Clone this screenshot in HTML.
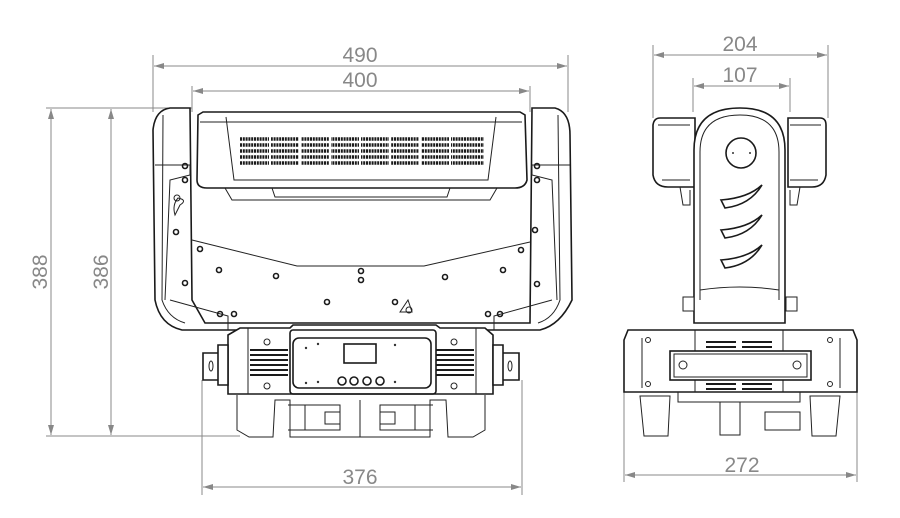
<!DOCTYPE html>
<html><head><meta charset="utf-8"><style>
html,body{margin:0;padding:0;background:#fff;}
svg{display:block}
.d{stroke:#888;stroke-width:1;fill:none}
.t{font-family:"Liberation Sans",sans-serif;font-size:21px;fill:#888;font-weight:300}
.k{stroke:#1a1a1a;stroke-width:1.6;fill:none}
.k2{stroke:#222;stroke-width:1;fill:none}
.f{fill:#fff}
</style></head><body>
<svg width="900" height="518" viewBox="0 0 900 518" xmlns="http://www.w3.org/2000/svg">
<defs>
<marker id="a" viewBox="0 0 10 6" refX="10" refY="3" markerWidth="10" markerHeight="6" orient="auto-start-reverse"><path d="M0,0L10,3L0,6z" fill="#888"/></marker>
</defs>
<line class="d" x1="153" y1="55" x2="153" y2="112"/><line class="d" x1="568" y1="55" x2="568" y2="112"/>
<line class="d" x1="154" y1="66" x2="567" y2="66" marker-start="url(#a)" marker-end="url(#a)"/>
<text class="t" x="360" y="62" text-anchor="middle">490</text>
<line class="d" x1="192" y1="86" x2="192" y2="112"/><line class="d" x1="530" y1="86" x2="530" y2="112"/>
<line class="d" x1="193" y1="91" x2="529" y2="91" marker-start="url(#a)" marker-end="url(#a)"/>
<text class="t" x="360" y="87" text-anchor="middle">400</text>
<line class="d" x1="46" y1="108" x2="192" y2="108"/>
<line class="d" x1="46" y1="436" x2="240" y2="436"/>
<line class="d" x1="51" y1="109" x2="51" y2="435" marker-start="url(#a)" marker-end="url(#a)"/>
<line class="d" x1="111" y1="109" x2="111" y2="435" marker-start="url(#a)" marker-end="url(#a)"/>
<text class="t" transform="translate(47,272) rotate(-90)" text-anchor="middle">388</text>
<text class="t" transform="translate(108,272) rotate(-90)" text-anchor="middle">386</text>
<line class="d" x1="202" y1="380" x2="202" y2="495"/><line class="d" x1="522" y1="380" x2="522" y2="495"/>
<line class="d" x1="203" y1="487" x2="521" y2="487" marker-start="url(#a)" marker-end="url(#a)"/>
<text class="t" x="360" y="484" text-anchor="middle">376</text>
<line class="d" x1="653" y1="45" x2="653" y2="118"/><line class="d" x1="828" y1="45" x2="828" y2="118"/>
<line class="d" x1="654" y1="55" x2="827" y2="55" marker-start="url(#a)" marker-end="url(#a)"/>
<text class="t" x="740" y="51" text-anchor="middle">204</text>
<line class="d" x1="693" y1="78" x2="693" y2="112"/><line class="d" x1="790" y1="78" x2="790" y2="112"/>
<line class="d" x1="694" y1="86" x2="789" y2="86" marker-start="url(#a)" marker-end="url(#a)"/>
<text class="t" x="740" y="82" text-anchor="middle">107</text>
<line class="d" x1="624" y1="345" x2="624" y2="482"/><line class="d" x1="857" y1="345" x2="857" y2="482"/>
<line class="d" x1="625" y1="475" x2="856" y2="475" marker-start="url(#a)" marker-end="url(#a)"/>
<text class="t" x="742" y="472" text-anchor="middle">272</text>

<path class="k f" d="M170,108 L190,108 L192,300 L205,323 L530,323 L532,108 L555,108 Q570,112 570,135 L572,300 Q560,325 540,330 L182,330 Q160,325 155,300 L153,130 Q155,110 170,108z"/>
<path class="k2" d="M163,115 L162,300 Q168,318 185,323 M558,115 L560,300 Q554,318 538,323"/>
<path class="k2" d="M155,165 L190,165 L190,175 L170,180 L165,300 M570,165 L532,165 L532,175 L552,180 L557,300"/>
<path class="k2" d="M170,300 L228,316 L228,330 M552,300 L494,316 L494,330"/>
<path class="k2" d="M192,240 L297,266 L424,266 L530,242"/>
<path class="k f" d="M198,115 L203,112 L520,112 L525,115 L527,180 Q525,188 515,188 L207,188 Q197,188 197,180z"/>
<path class="k2" d="M226,117 L234,180 L488,180 L496,117 M200,122 L522,122"/>
<path class="k2" d="M225,188 L232,200 L490,200 L497,188 M272,188 L275,197 L447,197 L450,188"/>
<g stroke="#1a1a1a" stroke-width="3.6" stroke-dasharray="2 0.8">
<line x1="240" y1="139" x2="484" y2="139"/><line x1="240" y1="145" x2="484" y2="145"/><line x1="240" y1="151" x2="484" y2="151"/><line x1="240" y1="157" x2="484" y2="157"/><line x1="240" y1="163" x2="484" y2="163"/>
</g>
<g stroke="#fff" stroke-width="2"><line x1="270" y1="136" x2="270" y2="167"/><line x1="300" y1="136" x2="300" y2="167"/><line x1="330" y1="136" x2="330" y2="167"/><line x1="360" y1="136" x2="360" y2="167"/><line x1="390" y1="136" x2="390" y2="167"/><line x1="420" y1="136" x2="420" y2="167"/><line x1="450" y1="136" x2="450" y2="167"/></g>
<g fill="none" stroke="#1a1a1a" stroke-width="1.6">
<circle cx="185" cy="166" r="2.5"/><circle cx="185" cy="180" r="2.5"/><circle cx="176" cy="232" r="2.5"/><circle cx="200" cy="249" r="2.5"/><circle cx="219" cy="270" r="2.5"/><circle cx="185" cy="283" r="2.5"/><circle cx="276" cy="276" r="2.5"/><circle cx="361" cy="271" r="2.5"/><circle cx="361" cy="280" r="2.5"/><circle cx="445" cy="277" r="2.5"/><circle cx="503" cy="270" r="2.5"/><circle cx="521" cy="250" r="2.5"/><circle cx="535" cy="230" r="2.5"/><circle cx="537" cy="166" r="2.5"/><circle cx="537" cy="180" r="2.5"/><circle cx="537" cy="284" r="2.5"/><circle cx="327" cy="302" r="2.5"/><circle cx="395" cy="302" r="2.5"/><circle cx="220" cy="314" r="2.5"/><circle cx="234" cy="314" r="2.5"/><circle cx="488" cy="314" r="2.5"/><circle cx="500" cy="314" r="2.5"/>
</g>
<path class="k2" d="M178,198 Q172,205 175,215 L180,205 Q188,200 178,198z"/><circle cx="177" cy="198" r="3" class="k2"/>
<path class="k2" d="M400,312 L408,300 L412,312z"/><circle cx="409" cy="310" r="3" class="k2"/>
<path class="k f" d="M228,335 L240,328 L290,328 L293,325 L436,325 L440,328 L485,328 L493,335 L493,394 L228,394z"/>
<rect class="k" x="290" y="330" width="146" height="64" rx="3"/>
<rect class="k" x="293" y="338" width="138" height="50" rx="6"/>
<rect class="k" x="344" y="344" width="32" height="19"/>
<g class="k"><circle cx="342" cy="381" r="4"/><circle cx="354" cy="381" r="4"/><circle cx="367" cy="381" r="4"/><circle cx="380" cy="381" r="4"/></g>
<g fill="#333"><circle cx="306" cy="348" r="1.2"/><circle cx="318" cy="344" r="1.2"/><circle cx="306" cy="383" r="1.2"/><circle cx="318" cy="382" r="1.2"/><circle cx="395" cy="345" r="1.2"/><circle cx="395" cy="382" r="1.2"/></g>
<g stroke="#1a1a1a" stroke-width="2"><line x1="250" y1="350" x2="288" y2="350"/><line x1="250" y1="355" x2="288" y2="355"/><line x1="250" y1="360" x2="288" y2="360"/><line x1="250" y1="365" x2="288" y2="365"/><line x1="250" y1="370" x2="288" y2="370"/><line x1="250" y1="375" x2="288" y2="375"/>
<line x1="436" y1="350" x2="474" y2="350"/><line x1="436" y1="355" x2="474" y2="355"/><line x1="436" y1="360" x2="474" y2="360"/><line x1="436" y1="365" x2="474" y2="365"/><line x1="436" y1="370" x2="474" y2="370"/><line x1="436" y1="375" x2="474" y2="375"/></g>
<g class="k2"><circle cx="267" cy="342" r="3"/><circle cx="267" cy="386" r="3"/><circle cx="454" cy="342" r="3"/><circle cx="454" cy="386" r="3"/></g>
<path class="k2" d="M248,328 L248,394 M476,328 L476,394"/>
<path class="k f" d="M218,345 L228,345 L228,385 L218,385z M203,353 L218,353 L218,380 L203,380z"/>
<ellipse class="k2" cx="211" cy="366" rx="2" ry="5"/>
<path class="k f" d="M493,345 L503,345 L503,385 L493,385z M503,353 L519,353 L519,380 L503,380z"/>
<ellipse class="k2" cx="510" cy="366" rx="2" ry="5"/>
<path class="k2" d="M237,395 L237,430 L249,437 L273,437 L275,400 L290,400 L290,437 L430,437 L430,400 L446,400 L448,437 L473,437 L485,430 L485,395"/>
<path class="k2" d="M288,405 L340,405 L340,430 L288,430 M305,405 L305,430 M325,412 L340,412 L340,424 L325,424z M433,405 L380,405 L380,430 L433,430 M415,405 L415,430 M380,412 L395,412 L395,424 L380,424z M360,400 L360,437"/>

<path class="k f" d="M660,118 L695,118 L695,187 L668,187 Q655,187 653,175 L653,125 Q654,118 660,118z M788,118 L820,118 Q826,118 826,125 L826,175 Q824,187 812,187 L788,187z"/>
<path class="k2" d="M658,125 L690,125 M790,125 L821,125 M662,180 L690,180 M790,180 L818,180"/>
<path class="k2" d="M680,187 L683,205 L690,205 L690,190 M800,187 L797,205 L790,205 L790,190"/>
<path class="k f" d="M694,323 L694,150 Q694,108 740,108 Q785,108 785,150 L785,323z"/>
<path class="k2" d="M700,300 L700,152 Q700,115 740,115 Q779,115 779,152 L779,300 M700,290 Q740,284 779,290"/>
<circle class="k" cx="741" cy="153" r="15"/>
<g fill="#333"><circle cx="733" cy="153" r="1"/><circle cx="750" cy="153" r="1"/></g>
<path class="k" d="M721,200 Q748,198 762,185 Q750,205 725,208z M721,230 Q748,228 762,215 Q750,235 725,238z M721,260 Q748,258 762,245 Q750,265 725,268z"/>
<rect class="k2 f" x="683" y="297" width="11" height="14"/><rect class="k2 f" x="786" y="297" width="11" height="14"/>
<path class="k f" d="M628,330 L853,330 L857,340 L857,392 L624,392 L624,340z"/>
<path class="k2" d="M695,330 L695,392 M783,330 L783,392 M642,338 L642,388 M840,338 L840,388"/>
<rect class="k f" x="670" y="351" width="141" height="29"/>
<rect class="k2" x="674" y="354" width="133" height="23"/>
<g class="k2"><circle cx="683" cy="365" r="4"/><circle cx="797" cy="365" r="4"/><circle cx="648" cy="340" r="2.5"/><circle cx="830" cy="340" r="2.5"/><circle cx="648" cy="384" r="2.5"/><circle cx="830" cy="384" r="2.5"/></g>
<g stroke="#1a1a1a" stroke-width="2"><line x1="706" y1="342" x2="736" y2="342"/><line x1="742" y1="342" x2="772" y2="342"/><line x1="706" y1="347" x2="736" y2="347"/><line x1="742" y1="347" x2="772" y2="347"/><line x1="706" y1="384" x2="736" y2="384"/><line x1="742" y1="384" x2="772" y2="384"/><line x1="706" y1="389" x2="736" y2="389"/><line x1="742" y1="389" x2="772" y2="389"/></g>
<path class="k2" d="M640,396 L670,396 L668,436 L644,436z M810,396 L840,396 L836,436 L812,436z M678,392 L678,402 L800,402 L800,392 M720,402 L720,435 L740,435 L740,402 M765,412 L800,412 L800,430 L765,430z"/>
</svg>
</body></html>
